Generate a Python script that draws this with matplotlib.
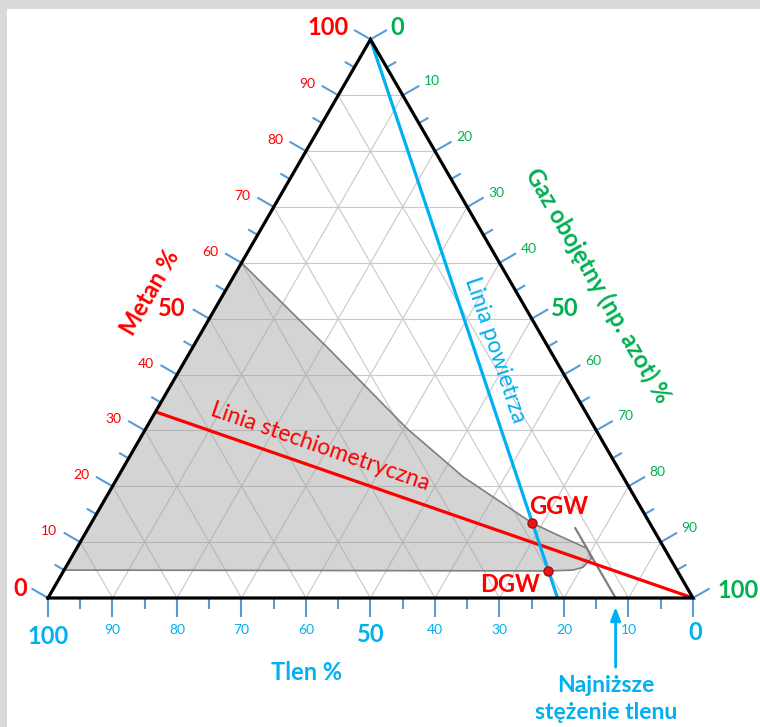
import numpy as np
import matplotlib
matplotlib.use("Agg")
import matplotlib.pyplot as plt
from matplotlib.patches import Polygon, Rectangle

plt.rcParams['font.family'] = ['Lato', 'DejaVu Sans']

# ---- data (percent) ----
tick_values = list(range(0, 101, 5))
label_values = [10, 20, 30, 40, 60, 70, 80, 90]
big_values = [0, 50, 100]

# flammable region outline: (methane %, inert gas %)
region_methane = [60.0, 44.4, 30.4, 21.7, 14.5, 13.4, 11.3, 8.9, 7.1, 5.5, 5.0, 4.85, 5.0]
region_inert = [0.0, 21.5, 40.4, 53.5, 66.4, 68.4, 73.3, 79.1, 80.7, 80.2, 78.9, 75.2, 0.0]

# air line: pure methane -> air (21 % O2, 79 % N2)
air_methane = [100.0, 0.0]
air_inert = [0.0, 79.0]

# stoichiometric line: CH4 : O2 = 1 : 2 -> pure inert gas
stoich_methane = [100.0 / 3, 0.0]
stoich_inert = [0.0, 100.0]

# limiting oxygen concentration line (O2 = 12 %)
loc_oxygen = 12.0
loc_methane = [0.0, 12.5]

# flammability limits in air
ggw_methane = 13.4
dgw_methane = 4.85

RED = '#FF0000'
GREEN = '#00B050'
BLUE = '#00B0F0'
TICK = '#5B9BD5'

H = np.sqrt(3) / 2
PX = 645.0  # pixels per unit side length


def tern(m, n):
    m = np.asarray(m, dtype=float) / 100.0
    n = np.asarray(n, dtype=float) / 100.0
    return n + m / 2.0, m * H


def px(dx, dy):
    """pixel offset (x right, y down) -> data offset"""
    return dx / PX, -dy / PX


fig = plt.figure(figsize=(7.6, 7.27), dpi=100)
fig.patch.set_facecolor('white')
ax = fig.add_axes([0, 0, 1, 1])
ax.set_xlim(-48 / PX, (760 - 48) / PX)
ax.set_ylim((598 - 727) / PX, 598 / PX)
ax.axis('off')

# frame bands
fig.patches.append(Rectangle((0, 1 - 9 / 727), 1, 9 / 727, transform=fig.transFigure,
                             facecolor='#D9D9D9', edgecolor='none', zorder=0))
fig.patches.append(Rectangle((0, 0), 7 / 760, 1, transform=fig.transFigure,
                             facecolor='#D9D9D9', edgecolor='none', zorder=0))

# grid
gcol = '#C8C8C8'
for k in range(10, 100, 10):
    x, y = tern([k, k], [0, 100 - k])
    ax.plot(x, y, color=gcol, lw=0.8, zorder=1)
    x, y = tern([0, 100 - k], [k, k])
    ax.plot(x, y, color=gcol, lw=0.8, zorder=1)
    x, y = tern([0, 100 - k], [100 - k, 0])
    ax.plot(x, y, color=gcol, lw=0.8, zorder=1)

# flammable region
rx, ry = tern(region_methane, region_inert)
ax.add_patch(Polygon(np.column_stack([rx, ry]), closed=True, facecolor='#A0A0A0',
                     alpha=0.45, edgecolor='none', zorder=2))
ax.add_patch(Polygon(np.column_stack([rx, ry]), closed=True, facecolor='none',
                     edgecolor='#7F7F7F', lw=1.2, joinstyle='round', zorder=3))

# limiting oxygen line
lm = np.array(loc_methane)
x, y = tern(lm, 100 - loc_oxygen - lm)
ax.plot(x, y, color='#7F7F7F', lw=1.6, zorder=3)

# stoichiometric and air lines
x, y = tern(stoich_methane, stoich_inert)
ax.plot(x, y, color=RED, lw=2.3, zorder=4, solid_capstyle='butt')
x, y = tern(air_methane, air_inert)
ax.plot(x, y, color=BLUE, lw=2.3, zorder=4, solid_capstyle='butt')

# triangle border
bx, by = tern([0, 0, 100, 0], [0, 100, 0, 0])
ax.plot(bx, by, color='black', lw=2.3, zorder=5, solid_joinstyle='miter')

# ticks
maj, mnr = 19 / PX, 11 / PX
d_left = np.array([-np.sqrt(3) / 2, 0.5])
d_right = np.array([np.sqrt(3) / 2, 0.5])
d_bottom = np.array([0.0, -1.0])
for v in tick_values:
    L = maj if v % 10 == 0 else mnr
    for (pm, pn), d in (((v, 0), d_left), ((100 - v, v), d_right), ((0, 100 - v), d_bottom)):
        x0, y0 = tern(pm, pn)
        ax.plot([x0, x0 + d[0] * L], [y0, y0 + d[1] * L], color=TICK, lw=1.5,
                zorder=4, solid_capstyle='butt')

# small tick labels
SMALL = 10
for v in label_values:
    x0, y0 = tern(v, 0)
    ox, oy = px(-31, -11)
    ax.text(x0 + ox, y0 + oy, str(v), color=RED, fontsize=SMALL, ha='center', va='center')
    x0, y0 = tern(100 - v, v)
    ox, oy = px(29, -14)
    ax.text(x0 + ox, y0 + oy, str(v), color=GREEN, fontsize=SMALL, ha='center', va='center')
    x0, y0 = tern(0, 100 - v)
    ox, oy = px(0, 32)
    ax.text(x0 + ox, y0 + oy, str(v), color=BLUE, fontsize=SMALL, ha='center', va='center')

# large tick labels
BIG = 17
left_off = {0: (-28, -9), 50: (-37, -10), 100: (-42, -12)}
right_off = {0: (27, -12), 50: (33, -10), 100: (45, -7)}
bottom_off = {0: (2, 35), 50: (0, 37), 100: (0, 38)}
for v in big_values:
    x0, y0 = tern(v, 0)
    ox, oy = px(*left_off[v])
    ax.text(x0 + ox, y0 + oy, str(v), color=RED, fontsize=BIG, fontweight='bold',
            ha='center', va='center')
    x0, y0 = tern(100 - v, v)
    ox, oy = px(*right_off[v])
    ax.text(x0 + ox, y0 + oy, str(v), color=GREEN, fontsize=BIG, fontweight='bold',
            ha='center', va='center')
    x0, y0 = tern(0, 100 - v)
    ox, oy = px(*bottom_off[v])
    ax.text(x0 + ox, y0 + oy, str(v), color=BLUE, fontsize=BIG, fontweight='bold',
            ha='center', va='center')


def at(xp, yp):
    return (xp - 48) / PX, (598 - yp) / PX


TITLE = 17
# axis titles
ax.text(*at(150, 293), 'Metan %', color=RED, fontsize=TITLE, fontweight='bold',
        rotation=60, ha='center', va='center', rotation_mode='anchor')
ax.text(*at(598, 286), 'Gaz obojętny (np. azot) %', color=GREEN, fontsize=TITLE,
        fontweight='bold', rotation=-60, ha='center', va='center', rotation_mode='anchor')
ax.text(*at(307, 673), 'Tlen %', color=BLUE, fontsize=TITLE, fontweight='bold',
        ha='center', va='center')

# line labels
ax.text(*at(320, 447), 'Linia stechiometryczna', color=RED, fontsize=16.5,
        rotation=-19.1, ha='center', va='center', rotation_mode='anchor', zorder=6)
ax.text(*at(495, 350), 'Linia powietrza', color=BLUE, fontsize=16.5,
        rotation=-71.5, ha='center', va='center', rotation_mode='anchor', zorder=6)

# GGW / DGW points on the air line
for mv, lbl, pos in ((ggw_methane, 'GGW', (559, 506)), (dgw_methane, 'DGW', (510, 584))):
    x0, y0 = tern(mv, 0.79 * (100 - mv))
    ax.plot(x0, y0, 'o', ms=6.5, mfc='#E8141E', mec='#A01010', mew=1.0, zorder=7)
    ax.text(*at(*pos), lbl, color=RED, fontsize=17, fontweight='bold',
            ha='center', va='center', zorder=7)

# limiting oxygen arrow and note
xa, _ = tern(0, 100 - loc_oxygen)
ax.annotate('', xy=(xa, -6 / PX), xytext=(xa, -72 / PX),
            arrowprops=dict(arrowstyle='-|>,head_length=0.8,head_width=0.3',
                            color=BLUE, lw=2.0))
ax.text(*at(606, 699), 'Najniższe\nstężenie tlenu', color=BLUE, fontsize=16.5,
        fontweight='bold', ha='center', va='center', linespacing=1.3)

fig.savefig('out.png', dpi=100, facecolor='white')
